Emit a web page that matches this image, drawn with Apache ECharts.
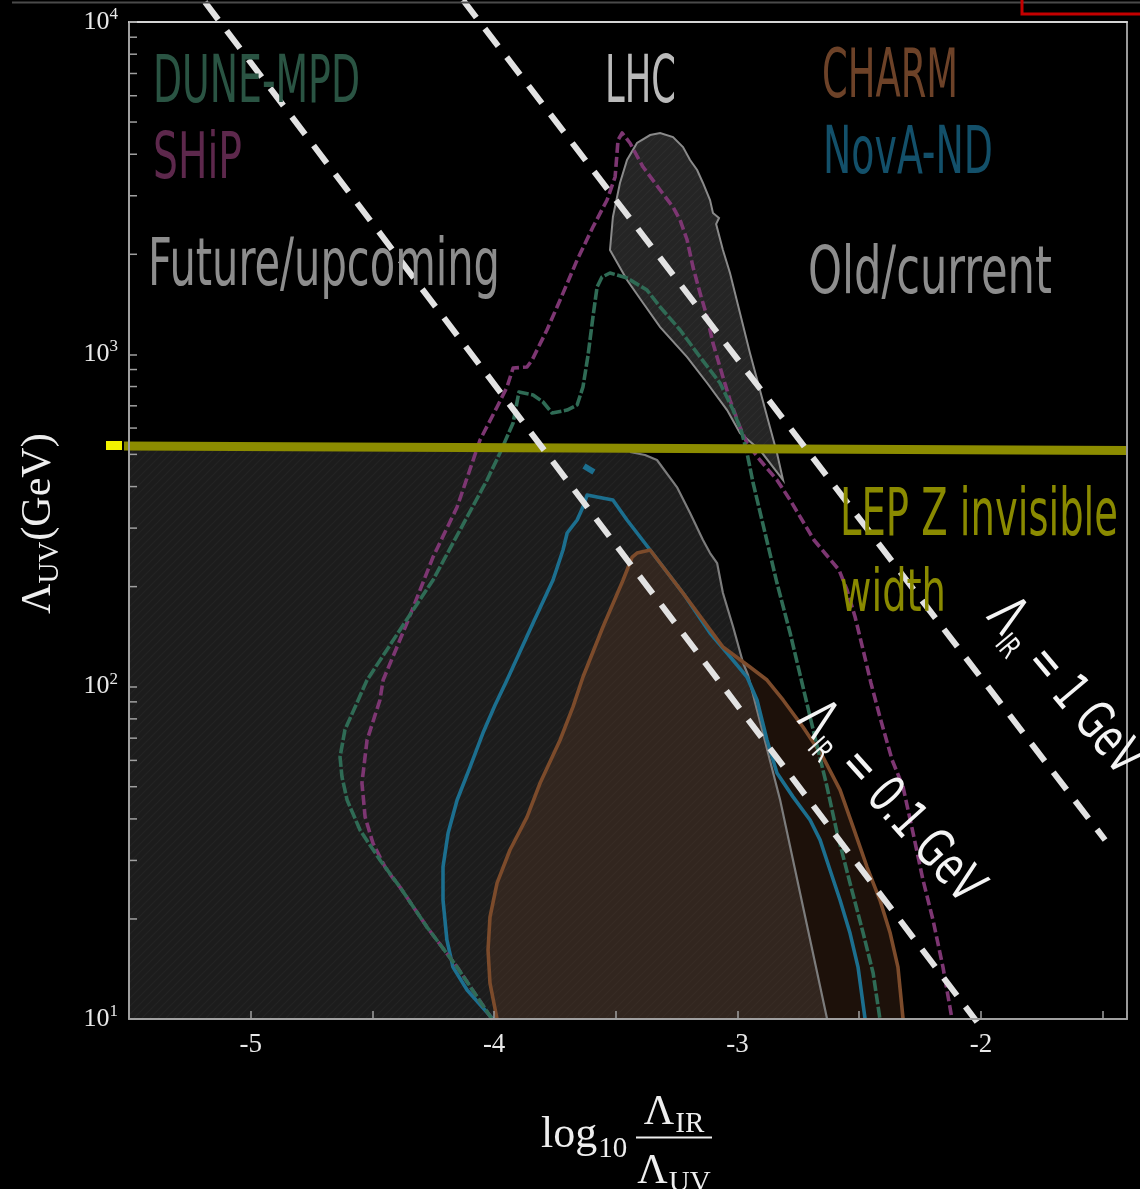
<!DOCTYPE html>
<html>
<head>
<meta charset="utf-8">
<script src="https://cdn.jsdelivr.net/npm/echarts@6/dist/echarts.min.js"></script>
<style>
  html, body { margin: 0; padding: 0; background: #000; }
  #chart { width: 1140px; height: 1189px; }
</style>
</head>
<body>
<div id="chart"></div>
<script>
// Axes: x = log10(Λ_IR / Λ_UV), y = Λ_UV in GeV (log scale)
const X_MIN = -5.5, X_MAX = -1.4;
const Y_MIN = 10, Y_MAX = 10000;
const xTickStep = 0.5;

// Excluded region (old / current bounds), filled grey area below the LEP line
const oldRegion = [[-5.5,10],[-5.5,515.3],[-3.442,508.3],[-3.380,497.7],[-3.331,480.8],[-3.249,398.7],[-3.195,333.1],
  [-3.142,276.3],[-3.113,252.4],[-3.084,235.5],[-3.060,191.3],[-3.018,151.2],[-2.977,117.8],[-2.957,108.4],
  [-2.825,45.6],[-2.632,10.0]];
const oldRegionEdge = oldRegion.slice(2);

// LHC region
const lhcRegion = [[-3.524,2060],[-3.512,2590],[-3.483,3278],[-3.454,3843],[-3.413,4324],[-3.359,4570],[-3.318,4634],
  [-3.265,4507],[-3.224,4205],[-3.195,3843],[-3.166,3586],[-3.142,3278],[-3.113,2913],[-3.101,2662],[-3.076,2572],
  [-3.088,2467],[-3.060,2060],[-3.031,1757],[-2.990,1331],[-2.949,1009],[-2.908,780.8],[-2.867,604.4],[-2.838,504.9],
  [-2.813,418.7],[-2.908,515.3],[-2.990,579.8],[-3.043,679.8],[-3.125,819.9],[-3.207,981.5],[-3.318,1208],
  [-3.388,1427],[-3.454,1673]];

// CHARM
const charm = [[-3.988,10.0],[-4.017,12.83],[-4.025,16.13],[-4.017,20.27],[-3.988,25.65],[-3.935,32.25],[-3.865,40.52],
  [-3.811,51.3],[-3.729,69.1],[-3.676,86.9],[-3.635,106.9],[-3.553,151.2],[-3.470,209.4],[-3.433,245.5],[-3.413,252.4],
  [-3.359,257.8],[-3.224,191.3],[-3.060,131.6],[-2.949,114.6],[-2.879,104.7],[-2.813,91.2],[-2.731,75.6],[-2.649,61.4],
  [-2.579,48.9],[-2.525,37.8],[-2.468,28.66],[-2.415,22.80],[-2.373,18.14],[-2.341,14.33],[-2.320,10.0]];

// NovA-ND
const novaND = [[-4.005,10.0],[-4.111,12.23],[-4.169,14.33],[-4.194,17.29],[-4.210,22.80],[-4.210,28.66],[-4.189,36.3],
  [-4.152,45.6],[-4.099,57.3],[-4.046,72.5],[-3.996,88.1],[-3.947,104.7],[-3.840,155.4],[-3.758,209.4],[-3.717,257.8],
  [-3.700,290.0],[-3.659,317.3],[-3.635,347.2],[-3.618,377.2],[-3.577,372.0],[-3.512,364.4],[-3.454,317.3],
  [-3.359,257.8],[-3.224,191.3],[-3.113,145.0],[-3.043,126.3],[-2.961,106.9],[-2.920,91.2],[-2.879,69.1],
  [-2.838,55.0],[-2.772,46.6],[-2.702,39.7],[-2.661,34.6],[-2.620,28.08],[-2.579,22.80],[-2.538,18.14],
  [-2.505,14.33],[-2.476,10.0]];
const novaIsland = [[-3.631,461.3],[-3.590,442.5]];

// DUNE-MPD
const duneMPD = [[-4.009,10.0],[-4.152,14.33],[-4.276,18.91],[-4.387,24.95],[-4.469,30.09],[-4.551,37.04],[-4.604,45.6],
  [-4.625,53.5],[-4.633,61.4],[-4.613,74.1],[-4.522,104.7],[-4.387,148.1],[-4.251,209.4],[-4.140,296.1],[-4.029,418.7],
  [-3.976,504.9],[-3.922,621.4],[-3.902,743.8],[-3.898,770],[-3.840,754.5],[-3.799,718.7],[-3.762,665.8],[-3.700,679.8],
  [-3.659,703.9],[-3.635,797.4],[-3.614,994.8],[-3.594,1295],[-3.577,1594],[-3.557,1708],[-3.524,1757],[-3.454,1697],
  [-3.372,1561],[-3.318,1388],[-3.236,1184],[-3.154,981.5],[-3.072,819.9],[-3.018,679.8],[-2.982,579.8],[-2.961,504.9],
  [-2.936,410.1],[-2.887,290.0],[-2.838,205.0],[-2.784,145.0],[-2.735,102.6],[-2.686,72.5],[-2.636,51.3],[-2.591,36.3],
  [-2.538,25.65],[-2.484,18.14],[-2.443,13.75],[-2.415,10.0]];

// SHiP
const ship = [[-4.009,10.0],[-4.152,14.33],[-4.276,18.91],[-4.387,24.95],[-4.419,26.74],[-4.448,28.66],[-4.498,33.84],
  [-4.530,40.52],[-4.543,51.3],[-4.522,69.1],[-4.469,91.2],[-4.456,104.7],[-4.358,155.4],[-4.251,245.5],[-4.152,347.2],
  [-4.058,552.3],[-3.988,694.2],[-3.947,797.4],[-3.922,909.5],[-3.865,915.8],[-3.844,961.4],[-3.783,1184],[-3.729,1457],
  [-3.659,1922],[-3.594,2416],[-3.536,2913],[-3.503,3417],[-3.495,4035],[-3.491,4415],[-3.474,4634],[-3.442,4324],
  [-3.388,3661],[-3.318,3122],[-3.265,2775],[-3.236,2536],[-3.207,2208],[-3.183,1831],[-3.154,1529],[-3.125,1295],
  [-3.101,1081],[-3.060,854.6],[-3.031,728.7],[-2.990,604.4],[-2.961,540.8],[-2.908,480.8],[-2.838,418.7],[-2.784,364.4],
  [-2.686,276.3],[-2.583,224.4],[-2.550,195.4],[-2.517,162.0],[-2.484,128.9],[-2.452,102.6],[-2.415,81.0],[-2.365,60.2],
  [-2.320,49.9],[-2.279,36.3],[-2.238,26.19],[-2.197,19.85],[-2.156,14.33],[-2.119,10.0]];

// LEP Z invisible width bound
const lepLine = [[-5.529,529.9],[-1.4,513.6]];

// Constant Λ_IR guide lines
const irLine01 = [[-5.188,11484],[-2.016,9.79]];
const irLine1 = [[-4.128,11647],[-1.490,34.56]];

// Text
const SERIF = '"Liberation Serif", "DejaVu Serif", serif';
const NARROW = '"Liberation Sans Narrow", "DejaVu Sans Condensed", "Liberation Sans", sans-serif';

const measureCtx = document.createElement('canvas').getContext('2d');
function textWidth(str, font) { measureCtx.font = font; return measureCtx.measureText(str).width; }

function hatch(base, line) {
  const c = document.createElement('canvas');
  c.width = 8; c.height = 8;
  const g = c.getContext('2d');
  g.fillStyle = base; g.fillRect(0, 0, 8, 8);
  g.strokeStyle = line; g.lineWidth = 1.2;
  g.beginPath();
  g.moveTo(-1, 9); g.lineTo(9, -1);
  g.moveTo(-1, 1); g.lineTo(1, -1);
  g.moveTo(7, 9); g.lineTo(9, 7);
  g.stroke();
  return { image: c, repeat: 'repeat' };
}

function polygon(id, pts, style, z) {
  return {
    type: 'custom', id, z, silent: true, clip: true,
    data: pts,
    renderItem(params, api) {
      if (params.dataIndex !== 0) return null;
      return { type: 'polygon', shape: { points: pts.map(p => api.coord(p)) }, style };
    }
  };
}

function curve(id, pts, color, width, dash, z, clip) {
  return {
    type: 'line', id, data: pts, z, silent: true, showSymbol: false, symbol: 'none',
    clip: clip !== false,
    lineStyle: { color, width, type: dash || 'solid', cap: 'butt', join: 'round' }
  };
}

function narrowLabel(str, left, right, baseline, cap, color) {
  const size = cap / 0.72;
  const font = size.toFixed(1) + 'px ' + NARROW;
  const w = textWidth(str, font);
  return {
    type: 'text', x: left, y: baseline - 0.34 * size, scaleX: (right - left) / w, z: 100, silent: true,
    style: { text: str, font, fill: color, textAlign: 'left', textVerticalAlign: 'middle', verticalAlign: 'middle' }
  };
}

function formula(parts, family, color) {
  let cx = 0;
  const children = [];
  parts.forEach(p => {
    const font = p.size + 'px ' + family;
    children.push({
      type: 'text', x: cx, y: (p.dy || 0) - 0.34 * p.size, z: 100, silent: true,
      style: { text: p.t, font, fill: color, textAlign: 'left', textVerticalAlign: 'middle', verticalAlign: 'middle' }
    });
    cx += textWidth(p.t, font) + (p.gap || 0);
  });
  return { children, width: cx };
}

function slantedLabel(rest, x0, y0, deg, len) {
  const f = formula([{ t: 'Λ', size: 56, gap: 1 }, { t: 'IR', size: 30, dy: 9, gap: 2 }, { t: rest, size: 53 }], NARROW, '#f4f4f4');
  return { type: 'group', x: x0, y: y0, rotation: -deg * Math.PI / 180, scaleX: len / f.width, children: f.children, z: 100 };
}

function centered(parts, cx, baseline, family, color) {
  const f = formula(parts, family, color);
  return { type: 'group', x: cx - f.width / 2, y: baseline, children: f.children, z: 100 };
}

const yMinorTicks = [];
for (let e = 1; e < 4; e++) for (let m = 2; m <= 9; m++) yMinorTicks.push([X_MIN, m * Math.pow(10, e)]);

const oldFill = hatch('#1c1c1c', '#242424');
const lhcFill = hatch('#252525', '#2d2d2d');

const yTitle = formula([{ t: 'Λ', size: 42 }, { t: 'UV', size: 29, dy: 7, gap: 1 }, { t: '(GeV)', size: 42 }], SERIF, '#eeeeee');
const logPart = formula([{ t: 'log', size: 44, gap: 1 }, { t: '10', size: 29, dy: 9 }], SERIF, '#eeeeee');

const chart = echarts.init(document.getElementById('chart'), null, { renderer: 'canvas' });

const axisGrey = '#a0a0a0';
chart.setOption({
  backgroundColor: '#000',
  animation: false,
  grid: { left: 129, right: 13, top: 22, bottom: 170 },
  xAxis: [{
    type: 'value', min: X_MIN, max: X_MAX, interval: xTickStep, z: 12,
    axisLine: { show: true, onZero: false, lineStyle: { color: axisGrey, width: 2 } },
    axisTick: { show: true, inside: true, length: 8, lineStyle: { color: axisGrey, width: 1.5 } },
    axisLabel: {
      color: '#e8e8e8', fontFamily: SERIF, fontSize: 27, margin: 12,
      formatter: v => Math.abs(v - Math.round(v)) < 1e-9 ? String(Math.round(v)) : ''
    },
    splitLine: { show: false }
  }, {
    type: 'value', min: X_MIN, max: X_MAX, position: 'top', z: 12,
    axisLine: { show: true, onZero: false, lineStyle: { color: '#d4d4d4', width: 2 } },
    axisTick: { show: false }, axisLabel: { show: false }, splitLine: { show: false }
  }],
  yAxis: [{
    type: 'log', logBase: 10, min: Y_MIN, max: Y_MAX, z: 12,
    axisLine: { show: true, onZero: false, lineStyle: { color: axisGrey, width: 2 } },
    axisTick: { show: true, inside: true, length: 8, lineStyle: { color: axisGrey, width: 1.5 } },
    axisLabel: {
      margin: 11,
      formatter: v => '{b|10}{s|' + Math.round(Math.log10(v)) + '}',
      rich: {
        b: { fontFamily: SERIF, fontSize: 26, color: '#e8e8e8', lineHeight: 32 },
        s: { fontFamily: SERIF, fontSize: 17, color: '#e8e8e8', verticalAlign: 'top', lineHeight: 17 }
      }
    },
    splitLine: { show: false }
  }, {
    type: 'log', logBase: 10, min: Y_MIN, max: Y_MAX, position: 'right', z: 12,
    axisLine: { show: true, onZero: false, lineStyle: { color: '#9a9a9a', width: 2 } },
    axisTick: { show: false }, axisLabel: { show: false }, splitLine: { show: false }
  }],
  series: [
    polygon('oldRegion', oldRegion, { fill: oldFill }, 1),
    polygon('lhcRegion', lhcRegion, { fill: lhcFill, stroke: '#8a8a8a', lineWidth: 2 }, 2),
    polygon('charmFill', charm, { fill: 'rgba(122,72,40,0.24)' }, 3),
    curve('oldEdge', oldRegionEdge, '#7c7c7c', 2.2, 'solid', 4),
    curve('nova', novaND, '#1c6f8f', 3.6, 'solid', 6),
    curve('novaIsland', novaIsland, '#1c6f8f', 6, 'solid', 6),
    curve('charm', charm, '#7c4b2b', 3.6, 'solid', 7),
    curve('ship', ship, '#7d3672', 3.6, [10, 4], 8),
    curve('dune', duneMPD, '#2f6b55', 3.6, [11, 2.5], 9),
    curve('lep', lepLine, '#8c8c00', 9, 'solid', 10, false),
    curve('ir01', irLine01, '#e2e2e2', 6, [22, 14], 11, false),
    curve('ir1', irLine1, '#e2e2e2', 6, [22, 14], 11, false),
    {
      type: 'custom', id: 'yMinor', z: 13, silent: true, clip: false,
      data: yMinorTicks,
      renderItem(params, api) {
        const p = api.coord([api.value(0), api.value(1)]);
        return { type: 'line', shape: { x1: p[0], y1: p[1], x2: p[0] + 8, y2: p[1] }, style: { stroke: axisGrey, lineWidth: 1.5 } };
      }
    }
  ],
  graphic: [
    // page edge strokes
    { type: 'line', shape: { x1: 12, y1: 2.5, x2: 1140, y2: 2.5 }, style: { stroke: '#4a4a4a', lineWidth: 2 }, silent: true, z: 90 },
    { type: 'rect', shape: { x: 1022, y: -6, width: 140, height: 20 }, style: { fill: 'none', stroke: '#c40000', lineWidth: 3 }, silent: true, z: 90 },
    { type: 'rect', shape: { x: 106, y: 441, width: 16, height: 9 }, style: { fill: '#f2f200' }, silent: true, z: 90 },

    narrowLabel('DUNE-MPD', 153, 360, 107, 47, '#2a5443'),
    narrowLabel('SHiP', 153, 242, 183, 46, '#5d284c'),
    narrowLabel('Future/upcoming', 148, 500, 290, 48, '#8d8d8d'),
    narrowLabel('LHC', 605, 676, 107, 47, '#bababa'),
    narrowLabel('CHARM', 822, 958, 102, 49, '#6d4228'),
    narrowLabel('NovA-ND', 823, 993, 178, 48, '#13506a'),
    narrowLabel('Old/current', 808, 1052, 298, 48, '#8d8d8d'),
    narrowLabel('LEP Z invisible', 840, 1118, 540, 48, '#8a8a00'),
    narrowLabel('width', 840, 946, 616, 42, '#8a8a00'),

    slantedLabel(' = 1 GeV', 982, 620, 50, 209),
    slantedLabel(' = 0.1 GeV', 793, 724, 48, 248),

    // y axis title, rotated
    { type: 'group', x: 53, y: 614, rotation: Math.PI / 2, children: yTitle.children, z: 100 },

    // x axis title: log10 of the fraction
    { type: 'group', x: 541, y: 1150, children: logPart.children, z: 100 },
    centered([{ t: 'Λ', size: 42, gap: 1 }, { t: 'IR', size: 29, dy: 7 }], 674, 1127, SERIF, '#eeeeee'),
    { type: 'line', shape: { x1: 636, y1: 1137.5, x2: 712, y2: 1137.5 }, style: { stroke: '#eeeeee', lineWidth: 2 }, silent: true, z: 100 },
    centered([{ t: 'Λ', size: 42, gap: 1 }, { t: 'UV', size: 29, dy: 7 }], 674, 1186, SERIF, '#eeeeee')
  ]
});
</script>
</body>
</html>
